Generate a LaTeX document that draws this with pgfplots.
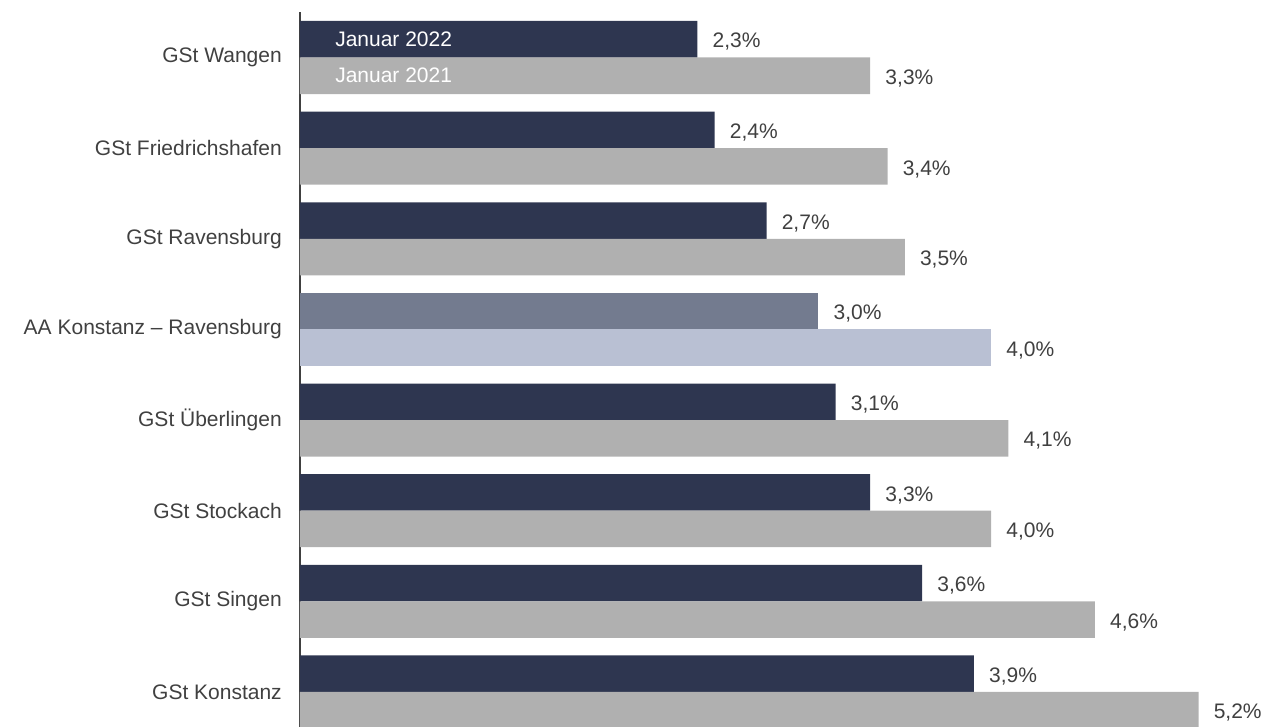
\documentclass[border=0pt]{standalone}
\usepackage{fontspec}
\setmainfont{Liberation Sans}
\usepackage{pgfplots}
\pgfplotsset{compat=1.18}
\definecolor{navy}{HTML}{2E3650}
\definecolor{lgray}{HTML}{B0B0B0}
\definecolor{slate}{HTML}{737B8F}
\definecolor{lblue}{HTML}{B9C0D3}
\definecolor{txt}{HTML}{404040}
\definecolor{axl}{HTML}{404040}
\begin{document}
\begin{tikzpicture}
\useasboundingbox (0,0) rectangle (951pt,545.25pt);
\begin{axis}[
  at={(225pt,0pt)}, anchor=south west,
  scale only axis,
  width=726pt, height=536.25pt,
  xmin=0, xmax=5.602,
  ymin=-0.386, ymax=7.502,
  axis x line=none,
  axis y line=left,
  y axis line style={-, draw=axl, line width=1.5pt},
  ytick={0,1,2,3,4,5,6,7},
  yticklabels={GSt Konstanz,GSt Singen,GSt Stockach,GSt Überlingen,AA Konstanz – Ravensburg,GSt Ravensburg,GSt Friedrichshafen,GSt Wangen},
  major tick length=0pt,
  yticklabel style={anchor=east, inner sep=0pt, xshift=-13.5pt, font=\fontsize{15.75}{19}\selectfont, text=txt},
  point meta=x,
  nodes near coords={\pgfmathprintnumber[fixed,fixed zerofill,precision=1,use comma,assume math mode=true]{\pgfplotspointmeta}\%},
  every node near coord/.append style={anchor=west, inner sep=0pt, xshift=11.25pt, yshift=-2pt, font=\fontsize{15.75}{19}\selectfont, text=txt},
  clip=false,
]
\addplot[xbar, bar shift=0pt, bar width=27.4pt, fill=navy, draw=none]
  coordinates {(3.9,0.2013) (3.6,1.2013) (3.3,2.2013) (3.1,3.2013) (2.7,5.2013) (2.4,6.2013) (2.3,7.2013)};
\addplot[xbar, bar shift=0pt, bar width=27.4pt, fill=lgray, draw=none]
  coordinates {(5.2,-0.2013) (4.6,0.7987) (4.0,1.7987) (4.1,2.7987) (3.5,4.7987) (3.4,5.7987) (3.3,6.7987)};
\addplot[xbar, bar shift=0pt, bar width=27.4pt, fill=slate, draw=none]
  coordinates {(3.0,4.2013)};
\addplot[xbar, bar shift=0pt, bar width=27.4pt, fill=lblue, draw=none]
  coordinates {(4.0,3.7987)};
\node[anchor=west, inner sep=0pt, text=white, font=\fontsize{15.75}{19}\selectfont, xshift=26.25pt] at (axis cs:0,7.2013) {Januar 2022};
\node[anchor=west, inner sep=0pt, text=white, font=\fontsize{15.75}{19}\selectfont, xshift=26.25pt] at (axis cs:0,6.7987) {Januar 2021};
\end{axis}
\end{tikzpicture}
\end{document}
